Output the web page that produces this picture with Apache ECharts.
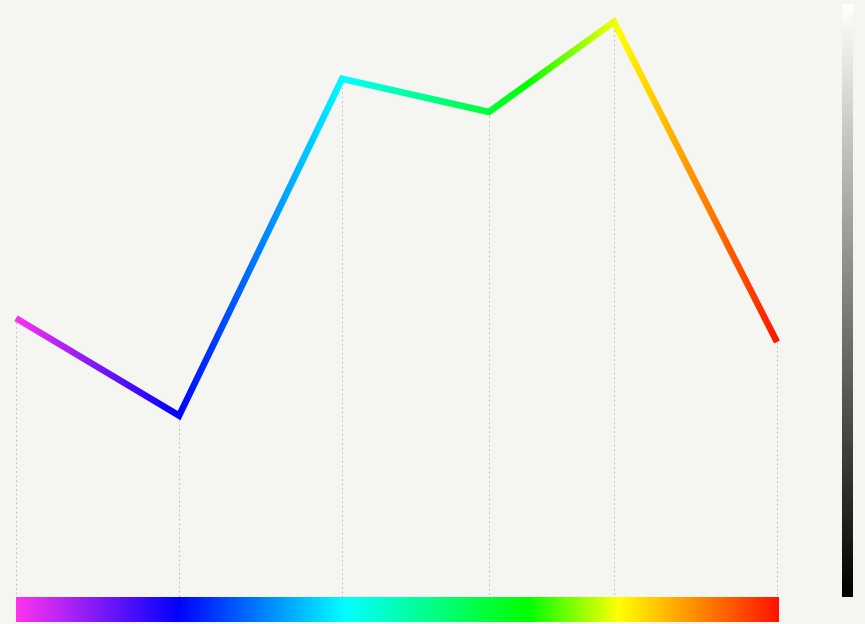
<!DOCTYPE html>
<html>
<head>
<meta charset="utf-8">
<script src="https://cdn.jsdelivr.net/npm/echarts@6/dist/echarts.min.js"></script>
<style>
html,body{margin:0;padding:0;background:#f5f5f2;}
#main{width:865px;height:624px;}
</style>
</head>
<body>
<div id="main"></div>
<script>
// Data
var xValues = [0, 3, 6, 8.7, 11, 14];
var yValues = [47, 30.6, 87.4, 81.8, 97, 43];
// Spectrum colours and where they sit along the x range (0..1)
var spectrumColors = ['#ff33ee', '#0000ff', '#00ffff', '#00ff00', '#ffff00', '#ff1100'];
var spectrumOffsets = [0, 0.213, 0.432, 0.671, 0.79, 1];
var grayColors = ['#ffffff', '#000000'];

function stops(colors, offsets) {
  return colors.map(function (c, i) { return { offset: offsets[i], color: c }; });
}

var chart = echarts.init(document.getElementById('main'));
var seriesData = xValues.map(function (x, i) { return [x, yValues[i]]; });
var dropLines = seriesData.map(function (p) {
  return [{ coord: [p[0], p[1]] }, { coord: [p[0], 0] }];
});

chart.setOption({
  backgroundColor: '#f5f5f2',
  animation: false,
  grid: { left: 16, right: 88, top: 4, bottom: 27 },
  xAxis: {
    type: 'value', min: 0, max: 14,
    axisLine: { show: false }, axisTick: { show: false },
    axisLabel: { show: false }, splitLine: { show: false }
  },
  yAxis: {
    type: 'value', min: 0, max: 100,
    axisLine: { show: false }, axisTick: { show: false },
    axisLabel: { show: false }, splitLine: { show: false }
  },
  series: [{
    type: 'line',
    data: seriesData,
    showSymbol: false,
    symbol: 'none',
    lineStyle: {
      width: 6.5,
      join: 'miter',
      cap: 'butt',
      color: {
        type: 'linear', x: 0, y: 0, x2: 1, y2: 0,
        colorStops: stops(spectrumColors, spectrumOffsets)
      }
    },
    z: 3,
    markLine: {
      silent: true,
      symbol: ['none', 'none'],
      label: { show: false },
      lineStyle: { type: [1.5, 3], color: '#b8b8b8', width: 1 },
      data: dropLines,
      z: 1
    }
  }],
  graphic: [
    {
      type: 'rect',
      shape: { x: 16, y: 597, width: 763, height: 25 },
      style: {
        fill: {
          type: 'linear', x: 0, y: 0, x2: 1, y2: 0,
          colorStops: stops(spectrumColors, spectrumOffsets)
        }
      }
    },
    {
      type: 'rect',
      shape: { x: 842, y: 4, width: 11, height: 593 },
      style: {
        fill: {
          type: 'linear', x: 0, y: 0, x2: 0, y2: 1,
          colorStops: stops(grayColors, [0, 1])
        }
      }
    }
  ]
});
</script>
</body>
</html>
